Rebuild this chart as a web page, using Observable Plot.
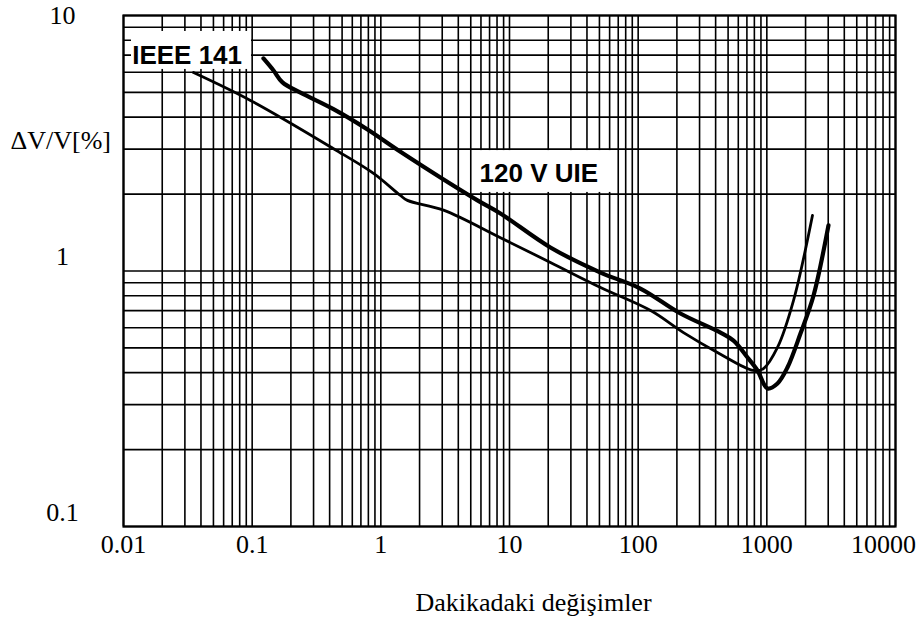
<!DOCTYPE html>
<html><head><meta charset="utf-8">
<script src="https://cdn.jsdelivr.net/npm/d3@7"></script>
<script src="https://cdn.jsdelivr.net/npm/@observablehq/plot@0.6"></script>
<style>body{margin:0;background:#fff}#chart svg{display:block}</style>
</head><body><div id="chart"></div>
<script>
// ---- tick labels ----
const xTicks = [0.01, 0.1, 1, 10, 100, 1000, 10000];
const xTickLabels = ["0.01", "0.1", "1", "10", "100", "1000", "10000"];
const yTicks = [0.1, 1, 10];
const yTickLabels = ["0.1", "1", "10"];
const xTitle = "Dakikadaki değişimler";
const yTitle = "ΔV/V[%]";

// ---- series: IEEE 141 (thin) ----
const ieeeX = [0.035, 0.097, 0.429, 0.877, 1.42, 1.61, 3.07, 8.5, 20.8, 51, 125, 225, 413, 787, 942, 1210, 1611, 2263];
const ieeeY = [5.98, 4.65, 3.01, 2.41, 1.975, 1.89, 1.73, 1.35, 1.08, 0.862, 0.70, 0.574, 0.48, 0.408, 0.415, 0.502, 0.766, 1.65];

// ---- series: 120 V UIE (thick) ----
const uieX = [0.1224, 0.1466, 0.172, 0.2375, 0.4285, 0.788, 1.42, 5.64, 8.5, 20.8, 51, 104, 213, 436, 551, 708, 846, 1012, 1210, 1446, 1826, 2304, 3013];
const uieY = [6.79, 6.09, 5.47, 4.99, 4.30, 3.58, 2.93, 1.89, 1.68, 1.236, 0.986, 0.854, 0.682, 0.574, 0.534, 0.4585, 0.408, 0.347, 0.363, 0.419, 0.569, 0.80, 1.51];

// ---- curve labels ----
const labelText = ["IEEE 141", "120 V UIE"];
const labelX = [0.0312, 16.9];
const labelY = [6.97, 2.41];
const boxX1 = [0.01154, 5.54];
const boxX2 = [0.0988, 66.6];
const boxY1 = [6.15, 2.03];
const boxY2 = [8.66, 2.96];

// ---- derived tables ----
const gridDecX = [0.01, 0.1, 1, 10, 100, 1000];
const gridDecY = [0.1, 1];
const mult = [1, 2, 3, 4, 5, 6, 7, 8, 9];
const gridX = gridDecX.flatMap(d => mult.map(m => m * d)).concat([10000]);
const gridY = gridDecY.flatMap(d => mult.map(m => m * d)).concat([10]);
const ieee = ieeeX.map((x, i) => ({x, y: ieeeY[i]}));
const uie = uieX.map((x, i) => ({x, y: uieY[i]}));
const labels = labelText.map((t, i) => ({t, x: labelX[i], y: labelY[i], x1: boxX1[i], x2: boxX2[i], y1: boxY1[i], y2: boxY2[i]}));
const xt = xTicks.map((v, i) => ({v, t: xTickLabels[i]}));
const yt = yTicks.map((v, i) => ({v, t: yTickLabels[i]}));

const serif = "Liberation Serif, Times New Roman, serif";
const sans = "Liberation Sans, Arial, sans-serif";

const chart = Plot.plot({
  width: 920,
  height: 623,
  marginTop: 15,
  marginLeft: 123,
  marginRight: 25,
  marginBottom: 97,
  style: {fontFamily: serif, fontSize: "26px", background: "#fff", color: "#000"},
  x: {type: "log", domain: [0.01, 10000], axis: null},
  y: {type: "log", domain: [0.1, 10], axis: null},
  marks: [
    Plot.ruleX(gridX, {stroke: "#000", strokeWidth: 1.6}),
    Plot.ruleY(gridY, {stroke: "#000", strokeWidth: 1.6}),
    Plot.frame({stroke: "#000", strokeWidth: 2.2}),
    Plot.rect(labels, {x1: "x1", x2: "x2", y1: "y1", y2: "y2", fill: "#fff"}),
    Plot.line(ieee, {x: "x", y: "y", stroke: "#000", strokeWidth: 2.8, curve: "catmull-rom"}),
    Plot.line(uie, {x: "x", y: "y", stroke: "#000", strokeWidth: 4.2, curve: "catmull-rom"}),
    Plot.text(labels, {x: "x", y: "y", text: "t", fontFamily: sans, fontWeight: "bold", fontSize: 26, fill: "#000", textAnchor: "middle", lineAnchor: "middle"}),
    // x tick labels
    Plot.text(xt.filter(d => d.v < 10000), {x: "v", text: "t", frameAnchor: "bottom", dy: 8, lineAnchor: "top", textAnchor: "middle", fill: "#000"}),
    Plot.text(xt.filter(d => d.v >= 10000), {x: "v", text: "t", frameAnchor: "bottom", dy: 8, dx: -12, lineAnchor: "top", textAnchor: "middle", fill: "#000"}),
    // y tick labels
    Plot.text(yt.filter(d => d.v >= 10), {y: "v", text: "t", frameAnchor: "left", dx: -61, textAnchor: "middle", lineAnchor: "middle", fill: "#000"}),
    Plot.text(yt.filter(d => d.v < 10), {y: "v", text: "t", frameAnchor: "left", dx: -61, dy: -14, textAnchor: "middle", lineAnchor: "middle", fill: "#000"}),
    // axis titles
    Plot.text([yTitle], {frameAnchor: "top-left", dx: -113, dy: 125, textAnchor: "start", lineAnchor: "middle", fill: "#000"}),
    Plot.text([xTitle], {frameAnchor: "bottom", dx: 24, dy: 76, textAnchor: "middle", lineAnchor: "middle", fill: "#000"})
  ]
});
document.getElementById("chart").appendChild(chart);
</script>
</body></html>
